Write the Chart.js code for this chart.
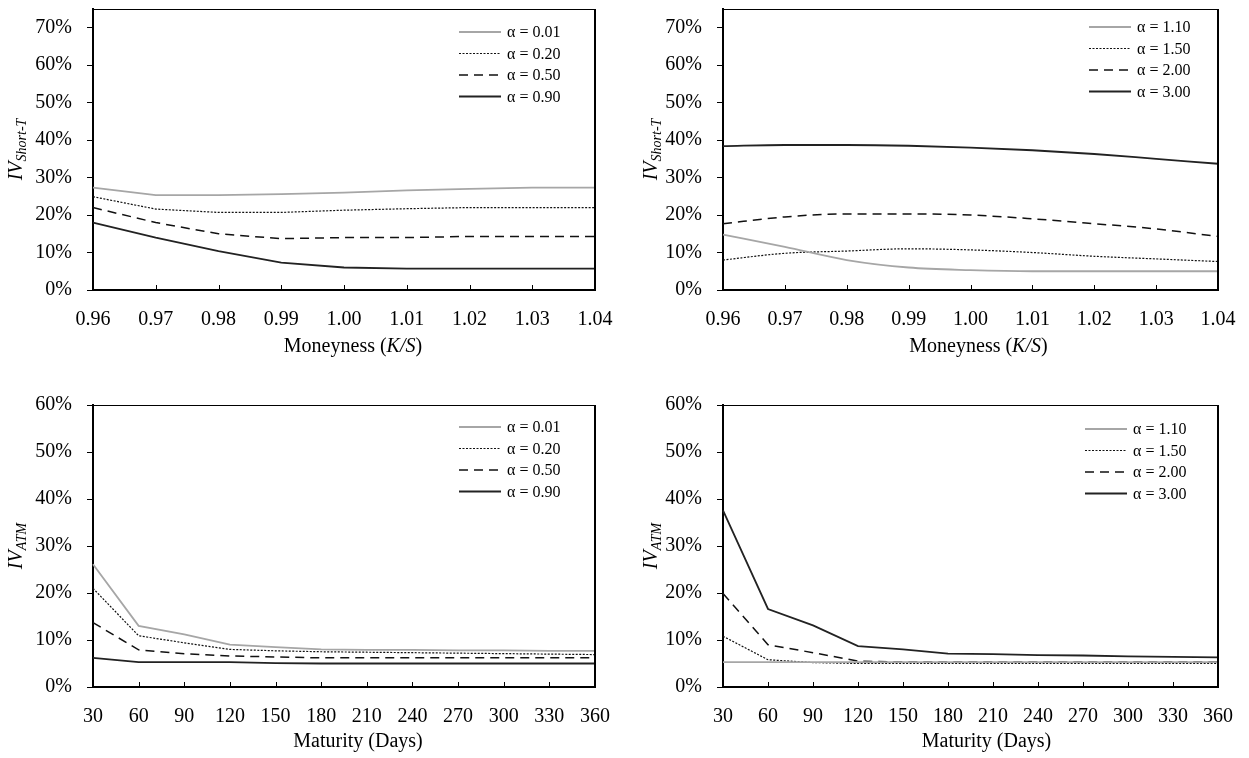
<!DOCTYPE html>
<html>
    <head>
        <title>Implied volatility</title>
        <script src="https://cdn.jsdelivr.net/npm/chart.js@4/dist/chart.umd.min.js"></script>
        <style>
            body { margin: 0; background: #fff; }
            .box { position: absolute; }
        </style>
    </head>
    <body>
        <div class="box" style="left:0;top:0;width:620px;height:380px"><canvas id="c1"></canvas></div>
        <div class="box" style="left:620px;top:0;width:629px;height:380px"><canvas id="c2"></canvas></div>
        <div class="box" style="left:0;top:380px;width:620px;height:378px"><canvas id="c3"></canvas></div>
        <div class="box" style="left:620px;top:380px;width:629px;height:378px"><canvas id="c4"></canvas></div>

        <script>
            // x categories
            const moneyness = ['0.96', '0.97', '0.98', '0.99', '1.00', '1.01', '1.02', '1.03', '1.04']
            const maturity = ['30', '60', '90', '120', '150', '180', '210', '240', '270', '300', '330', '360']

            const lowAlpha = ['α = 0.01', 'α = 0.20', 'α = 0.50', 'α = 0.90']
            const highAlpha = ['α = 1.10', 'α = 1.50', 'α = 2.00', 'α = 3.00']

            // IV short-term (%), by moneyness
            const stA001 = [27.3, 25.3, 25.3, 25.6, 26.0, 26.6, 27.0, 27.3, 27.3]
            const stA020 = [24.9, 21.6, 20.7, 20.7, 21.3, 21.7, 22.0, 22.0, 22.0]
            const stA050 = [22.0, 18.0, 15.0, 13.7, 14.0, 14.0, 14.3, 14.3, 14.3]
            const stA090 = [18.0, 14.0, 10.4, 7.3, 6.0, 5.7, 5.7, 5.7, 5.7]
            const stA110 = [14.8, 11.5, 8.0, 6.0, 5.3, 5.0, 5.0, 5.0, 5.0]
            const stA150 = [8.0, 9.8, 10.4, 11.0, 10.7, 10.0, 9.0, 8.3, 7.6]
            const stA200 = [17.7, 19.5, 20.3, 20.3, 20.0, 19.0, 17.7, 16.3, 14.3]
            const stA300 = [38.4, 38.7, 38.7, 38.5, 38.0, 37.3, 36.3, 35.0, 33.7]

            // IV at the money (%), by maturity
            const atmA001 = [26.1, 13.0, 11.2, 9.0, 8.5, 8.0, 7.9, 7.9, 7.8, 7.8, 7.7, 7.7]
            const atmA020 = [21.0, 10.9, 9.4, 8.0, 7.7, 7.5, 7.4, 7.3, 7.2, 7.1, 7.0, 6.9]
            const atmA050 = [13.7, 7.9, 7.1, 6.6, 6.4, 6.2, 6.2, 6.2, 6.2, 6.2, 6.2, 6.2]
            const atmA090 = [6.2, 5.3, 5.3, 5.3, 5.1, 5.0, 5.0, 5.0, 5.0, 5.0, 5.0, 5.0]
            const atmA110 = [5.3, 5.3, 5.3, 5.3, 5.3, 5.3, 5.3, 5.3, 5.3, 5.3, 5.3, 5.3]
            const atmA150 = [10.8, 5.8, 5.2, 5.0, 5.0, 5.0, 5.0, 5.0, 5.0, 5.0, 5.0, 5.0]
            const atmA200 = [19.9, 9.0, 7.3, 5.5, 5.3, 5.3, 5.3, 5.3, 5.3, 5.3, 5.3, 5.3]
            const atmA300 = [37.6, 16.6, 13.1, 8.7, 8.0, 7.1, 7.0, 6.8, 6.7, 6.5, 6.4, 6.3]

            const FONT = "'Liberation Serif', 'Times New Roman', serif"
            Chart.defaults.font.family = FONT
            Chart.defaults.color = '#000'

            // line looks: gray, dotted, dashed, solid
            const looks = [
                { borderColor: '#a6a6a6', borderWidth: 1.8, borderDash: [] },
                { borderColor: '#111', borderWidth: 1.2, borderDash: [2, 1.5] },
                { borderColor: '#111', borderWidth: 1.5, borderDash: [9, 6] },
                { borderColor: '#222', borderWidth: 1.8, borderDash: [] },
            ]

            // frame, inside x ticks, axis titles and legend
            const decor = {
                id: 'decor',
                afterDraw(chart, args, o) {
                    const { ctx, chartArea: a } = chart
                    ctx.save()
                    ctx.strokeStyle = '#000'
                    ctx.lineWidth = 1
                    ctx.beginPath()
                    ctx.moveTo(a.left, a.top + 0.5)
                    ctx.lineTo(a.right, a.top + 0.5)
                    ctx.stroke()
                    ctx.lineWidth = 2
                    ctx.beginPath()
                    ctx.moveTo(a.right, a.top)
                    ctx.lineTo(a.right, a.bottom)
                    ctx.stroke()

                    // inside ticks on x
                    const xs = chart.scales.x
                    ctx.lineWidth = 1
                    ctx.beginPath()
                    for (let i = 0; i < xs.ticks.length; i++) {
                        const px = Math.round(xs.getPixelForTick(i)) + 0.5
                        ctx.moveTo(px, a.bottom)
                        ctx.lineTo(px, a.bottom - 5)
                    }
                    ctx.stroke()

                    // x title
                    ctx.fillStyle = '#000'
                    ctx.textBaseline = 'middle'
                    const parts = o.xTitle
                    let w = 0
                    parts.forEach(p => {
                        ctx.font = (p[1] ? 'italic ' : '') + '20px ' + FONT
                        w += ctx.measureText(p[0]).width
                    })
                    let x = (a.left + a.right) / 2 + o.xShift - w / 2
                    const y = a.bottom + o.xTitleGap
                    ctx.textAlign = 'left'
                    parts.forEach(p => {
                        ctx.font = (p[1] ? 'italic ' : '') + '20px ' + FONT
                        ctx.fillText(p[0], x, y)
                        x += ctx.measureText(p[0]).width
                    })

                    // y title: IV with subscript, rotated
                    ctx.save()
                    ctx.translate(a.left - o.yTitleGap, (a.top + a.bottom) / 2)
                    ctx.rotate(-Math.PI / 2)
                    ctx.font = 'italic 20px ' + FONT
                    const w1 = ctx.measureText('IV').width
                    ctx.font = 'italic 14px ' + FONT
                    const w2 = ctx.measureText(o.ySub).width
                    const tx = -(w1 + w2) / 2
                    ctx.textBaseline = 'alphabetic'
                    ctx.font = 'italic 20px ' + FONT
                    ctx.fillText('IV', tx, 7)
                    ctx.font = 'italic 14px ' + FONT
                    ctx.fillText(o.ySub, tx + w1, 11)
                    ctx.restore()

                    // legend
                    const lx = a.right - o.legendRight
                    chart.data.datasets.forEach((ds, i) => {
                        const ly = a.top + o.legendTop + i * 21.5
                        ctx.strokeStyle = ds.borderColor
                        ctx.lineWidth = ds.borderWidth
                        ctx.setLineDash(ds.borderDash)
                        ctx.beginPath()
                        ctx.moveTo(lx, ly)
                        ctx.lineTo(lx + 42, ly)
                        ctx.stroke()
                        ctx.setLineDash([])
                        ctx.font = '16px ' + FONT
                        ctx.textBaseline = 'middle'
                        ctx.fillStyle = '#000'
                        ctx.fillText(ds.label, lx + 48, ly + 1)
                    })
                    ctx.restore()
                },
            }

            function makeChart(id, labels, series, names, cfg) {
                const datasets = series.map((s, i) => ({
                    label: names[i],
                    data: s,
                    ...looks[i],
                    pointRadius: 0,
                    fill: false,
                    tension: cfg.smooth ? 0.3 : 0,
                    cubicInterpolationMode: cfg.smooth ? 'monotone' : 'default',
                }))
                return new Chart(document.getElementById(id), {
                    type: 'line',
                    data: { labels, datasets },
                    plugins: [decor],
                    options: {
                        responsive: true,
                        maintainAspectRatio: false,
                        animation: false,
                        layout: { padding: { left: 0, top: cfg.top, right: cfg.right, bottom: 0 } },
                        plugins: {
                            legend: { display: false },
                            tooltip: { enabled: false },
                            decor: cfg.decor,
                        },
                        scales: {
                            x: {
                                type: 'category',
                                offset: false,
                                grid: { display: true, drawOnChartArea: false, drawTicks: false },
                                border: { display: true, color: '#000', width: 2 },
                                ticks: { font: { size: 20 }, padding: 18, maxRotation: 0, autoSkip: false },
                                afterFit(s) {
                                    s.height = cfg.xHeight
                                    s.paddingLeft = 0
                                    s.paddingRight = 0
                                },
                            },
                            y: {
                                min: 0,
                                max: cfg.yMax,
                                grid: { drawOnChartArea: false, drawTicks: true, tickLength: 6, color: '#000' },
                                border: { display: true, color: '#000', width: 2 },
                                ticks: {
                                    stepSize: 10,
                                    includeBounds: false,
                                    padding: 15,
                                    font: { size: 20 },
                                    callback: v => v + '%',
                                },
                                afterFit(s) {
                                    s.width = cfg.yWidth
                                    s.paddingTop = 0
                                    s.paddingBottom = 0
                                },
                            },
                        },
                    },
                })
            }

            const moneyTitle = [['Moneyness ('], ['K/S', true], [')']]
            const matTitle = [['Maturity (Days)']]

            makeChart('c1', moneyness, [stA001, stA020, stA050, stA090], lowAlpha, {
                top: 9, right: 25, yWidth: 93, xHeight: 90, yMax: 75,
                decor: { xTitle: moneyTitle, xShift: 9, xTitleGap: 57, yTitleGap: 78, ySub: 'Short-T', legendRight: 136, legendTop: 23 },
            })
            makeChart('c2', moneyness, [stA110, stA150, stA200, stA300], highAlpha, {
                top: 9, right: 31, yWidth: 103, xHeight: 90, yMax: 75, smooth: true,
                decor: { xTitle: moneyTitle, xShift: 8, xTitleGap: 57, yTitleGap: 73, ySub: 'Short-T', legendRight: 129, legendTop: 18 },
            })
            makeChart('c3', maturity, [atmA001, atmA020, atmA050, atmA090], lowAlpha, {
                top: 25, right: 25, yWidth: 93, xHeight: 71, yMax: 60,
                decor: { xTitle: matTitle, xShift: 14, xTitleGap: 55, yTitleGap: 78, ySub: 'ATM', legendRight: 136, legendTop: 22 },
            })
            makeChart('c4', maturity, [atmA110, atmA150, atmA200, atmA300], highAlpha, {
                top: 25, right: 31, yWidth: 103, xHeight: 71, yMax: 60,
                decor: { xTitle: matTitle, xShift: 16, xTitleGap: 55, yTitleGap: 73, ySub: 'ATM', legendRight: 133, legendTop: 24 },
            })
        </script>
    </body>
</html>
